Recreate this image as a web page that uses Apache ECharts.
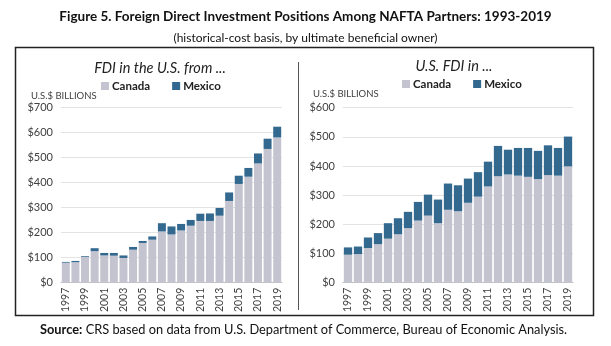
<!DOCTYPE html>
<html><head><meta charset="utf-8">
<script src="https://cdn.jsdelivr.net/npm/echarts@6/dist/echarts.min.js"></script>
<style>html,body{margin:0;padding:0;background:#fff}#c{width:611px;height:346px}</style>
</head><body><div id="c"></div>
<script>
const years = ['1997','1998','1999','2000','2001','2002','2003','2004','2005','2006','2007','2008','2009','2010','2011','2012','2013','2014','2015','2016','2017','2018','2019'];
// FDI in the U.S. from ...
const inUSCanada = [80,82,103,126,109,108,99,132,159,172,205,193,209,228,247,247,268,327,395,424,477,535,581];
const inUSMexico = [3,5,3,12,10,11,10,11,8,13,33,32,26,23,29,30,31,34,33,35,40,41,43];
// U.S. FDI in ...
const usInCanada = [96,98,119,132,151,166,187,213,230,204,250,245,274,295,330,365,371,367,363,355,369,367,399];
const usInMexico = [25,26,36,38,53,55,56,64,72,81,90,89,83,84,85,104,85,95,99,97,102,95,102];
const leftTicksMax = 700, rightTicksMax = 600;

const C_CAN = '#c4c4d1', C_MEX = '#33688f';
const FONT = 'Lato';
const chart = echarts.init(document.getElementById('c'));

function makeY(idx, max) {
  return {
    type:'value', gridIndex:idx, min:0, max:max, interval:100,
    axisLine:{show:false}, axisTick:{show:false},
    splitLine:{lineStyle:{color:'#e3e3e3'}},
    axisLabel:{formatter:'${value}', color:'#404040', fontSize:11, fontFamily:FONT, margin:8}
  };
}
function makeX(idx) {
  return {
    type:'category', gridIndex:idx, data:years,
    axisLine:{lineStyle:{color:'#bfbfbf'}}, axisTick:{show:false},
    axisLabel:{show:false}
  };
}
function bar(name, xi, stack, data, color) {
  return {type:'bar', name:name, xAxisIndex:xi, yAxisIndex:xi, stack:stack, data:data,
          barCategoryGap:'17%', itemStyle:{color:color}};
}
// vertical year labels (every other year), positioned by the category axis scale
function yearLabels(xi) {
  return {
    type:'custom', name:'years' + xi, xAxisIndex:xi, yAxisIndex:xi, silent:true, clip:false, z:10,
    data: years.map((y, i) => [i, 0]),
    renderItem: function (params, api) {
      const i = api.value(0);
      if (i % 2 !== 0) return null;
      const p = api.coord([i, 0]);
      return {
        type:'text', x:p[0], y:p[1] + 5, rotation:Math.PI / 2,
        style:{text:years[i], fill:'#404040', fontSize:10.5, fontFamily:FONT, align:'right', verticalAlign:'middle'}
      };
    }
  };
}

chart.setOption({
  animation:false,
  textStyle:{fontFamily:FONT},
  title:[
    {text:'Figure 5. Foreign Direct Investment Positions Among NAFTA Partners: 1993-2019', left:'center', top:5,
     textStyle:{fontSize:13.5, fontWeight:'bold', color:'#111', fontFamily:FONT}},
    {text:'(historical-cost basis, by ultimate beneficial owner)', left:'center', top:27,
     textStyle:{fontSize:12, fontWeight:'normal', color:'#111', fontFamily:FONT}},
    {text:'FDI in the U.S. from ...', left:155, textAlign:'center', top:56,
     textStyle:{fontSize:14.5, fontStyle:'italic', fontWeight:'normal', color:'#222', fontFamily:FONT}},
    {text:'U.S. FDI in ...', left:449, textAlign:'center', top:54,
     textStyle:{fontSize:14.5, fontStyle:'italic', fontWeight:'normal', color:'#222', fontFamily:FONT}}
  ],
  legend:[
    {left:96, top:75, itemWidth:8, itemHeight:8, itemGap:22, icon:'rect', data:['Canada','Mexico'],
     textStyle:{fontSize:11.5, fontWeight:'bold', color:'#222', padding:[0,0,0,-2]}},
    {left:397, top:73, itemWidth:8, itemHeight:8, itemGap:22, icon:'rect', data:['Canada','Mexico'],
     textStyle:{fontSize:11.5, fontWeight:'bold', color:'#222', padding:[0,0,0,-2]}}
  ],
  grid:[
    {left:61, right:329, top:107.7, bottom:63.3},
    {left:343, right:38, top:107.7, bottom:63.3}
  ],
  xAxis:[makeX(0), makeX(1)],
  yAxis:[makeY(0, leftTicksMax), makeY(1, rightTicksMax)],
  series:[
    bar('Canada', 0, 'a', inUSCanada, C_CAN),
    bar('Mexico', 0, 'a', inUSMexico, C_MEX),
    bar('Canada', 1, 'b', usInCanada, C_CAN),
    bar('Mexico', 1, 'b', usInMexico, C_MEX),
    yearLabels(0),
    yearLabels(1)
  ],
  graphic:[
    {type:'rect', shape:{x:15.5, y:47.5, width:578, height:268}, style:{fill:'none', stroke:'#222', lineWidth:1.5}, silent:true},
    {type:'line', shape:{x1:298.5, y1:62, x2:298.5, y2:310}, style:{stroke:'#555', lineWidth:1}, silent:true},
    {type:'text', left:31, top:91, style:{text:'U.S.$ BILLIONS', fontSize:9.5, fill:'#404040', fontFamily:FONT}},
    {type:'text', left:313, top:89, style:{text:'U.S.$ BILLIONS', fontSize:9.5, fill:'#404040', fontFamily:FONT}},
    {type:'text', left:40, top:323, style:{
      rich:{b:{fontWeight:'bold', fontSize:12.8, fill:'#111', fontFamily:FONT}, n:{fontSize:12.8, fill:'#111', fontFamily:FONT}},
      text:'{b|Source:} {n|CRS based on data from U.S. Department of Commerce, Bureau of Economic Analysis.}'}}
  ]
});
</script></body></html>
